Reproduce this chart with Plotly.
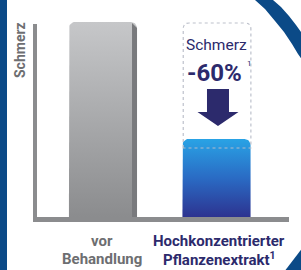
import math
import plotly.graph_objects as go

# ---------------- data ----------------
categories = ["vor Behandlung", "Hochkonzentrierter Pflanzenextrakt"]
label_line1 = ["vor", "Hochkonzentrierter"]
label_line2 = ["Behandlung", "Pflanzenextrakt<sup>1</sup>"]
pain_values = [100, 40]
axis_title = "Schmerz"
box_title = "Schmerz"

# ---------------- layout constants ----------------
W, H = 301, 270
L, R, T, B = 36, 11, 22, 53
PW, PH = W - L - R, H - T - B
X_RANGE = [-0.59, 1.6476]
Y_RANGE = [0, 100]
UX = (X_RANGE[1] - X_RANGE[0]) / PW   # data units per px (x)
UY = (Y_RANGE[1] - Y_RANGE[0]) / PH   # data units per px (y)
BAR_W = 0.6

NAVY = "#2c2a6c"
GREY_TXT = "#6d6e71"
AX_GREY = "#8b8c8e"
FRAME_BLUE = "#0b4a87"
FONT = "Roboto, Liberation Sans, Arial, sans-serif"


def pxx(px):
    return (px - L) / PW


def pxy(py):
    return (H - B - py) / PH


def rounded_bar(i, v, rpx=6):
    x0, x1 = i - BAR_W / 2, i + BAR_W / 2
    rx, ry = rpx * UX, rpx * UY
    xs, ys = [x0, x0], [0, v - ry]
    for k in range(1, 9):
        a = math.pi - k * math.pi / 16
        xs.append(x0 + rx + rx * math.cos(a))
        ys.append(v - ry + ry * math.sin(a))
    for k in range(0, 9):
        a = math.pi / 2 - k * math.pi / 16
        xs.append(x1 - rx + rx * math.cos(a))
        ys.append(v - ry + ry * math.sin(a))
    xs += [x1, x0]
    ys += [0, 0]
    return xs, ys


fig = go.Figure()

bar_scales = [
    [[0, "#8b8c8e"], [1, "#c6c7c9"]],
    [[0, "#2d3390"], [0.5, "#2a6bc4"], [1, "#29a3e5"]],
]
for i, v in enumerate(pain_values):
    xs, ys = rounded_bar(i, v)
    fig.add_trace(go.Scatter(
        x=xs, y=ys, mode="lines", fill="toself",
        line=dict(width=0, color="rgba(0,0,0,0)"),
        fillgradient=dict(type="vertical", colorscale=bar_scales[i]),
        hoverinfo="skip", showlegend=False, name=categories[i],
    ))

shapes = []

# 3D side strip of the grey bar
gx1 = 0 + BAR_W / 2
v0 = pain_values[0]
shapes.append(dict(
    type="path", xref="x", yref="y", layer="above",
    path=(f"M {gx1 - 5*UX},0 L {gx1},0 L {gx1},{v0 - 6*UY} "
          f"L {gx1 - 5*UX},{v0 - 1*UY} Z"),
    fillcolor="#797a7d", line=dict(width=0),
))

# dashed box around the annotation
bx0, bx1 = 1 - 0.293, 1 + 0.303
byt, byb = v0 - 1 * UY, pain_values[1] - 9 * UY
rx, ry = 6 * UX, 6 * UY
shapes.append(dict(
    type="path", xref="x", yref="y", layer="above",
    path=(f"M {bx0},{byb} L {bx0},{byt - ry} Q {bx0},{byt} {bx0 + rx},{byt} "
          f"L {bx1 - rx},{byt} Q {bx1},{byt} {bx1},{byt - ry} L {bx1},{byb} Z"),
    line=dict(color="rgba(185,190,200,0.95)", width=1.2, dash="3px,3px"),
))

# down arrow
ac = 1 + 1.5 * UX
sw, hw = 11 * UX, 20.5 * UX
st, ht, tip = (217 - 89) * UY, (217 - 112) * UY, (217 - 126) * UY
shapes.append(dict(
    type="path", xref="x", yref="y", layer="above",
    path=(f"M {ac - sw},{st} L {ac + sw},{st} L {ac + sw},{ht} L {ac + hw},{ht} "
          f"L {ac},{tip} L {ac - hw},{ht} L {ac - sw},{ht} Z"),
    fillcolor=NAVY, line=dict(width=0),
))

# axis lines
shapes.append(dict(type="rect", xref="paper", yref="paper",
                   x0=pxx(33), x1=pxx(37), y0=pxy(217), y1=pxy(24),
                   fillcolor=AX_GREY, line=dict(width=0)))
shapes.append(dict(type="rect", xref="paper", yref="paper",
                   x0=pxx(33), x1=pxx(289), y0=pxy(222), y1=pxy(217),
                   fillcolor=AX_GREY, line=dict(width=0)))

# blue frame decorations
shapes.append(dict(type="rect", xref="paper", yref="paper",
                   x0=pxx(-2), x1=pxx(7), y0=pxy(272), y1=pxy(-2),
                   fillcolor=FRAME_BLUE, line=dict(width=0)))
arc_pts = [(254, -2), (255, 0), (265, 9), (275, 21), (284, 32), (292, 44),
           (298, 54), (303, 61), (303, 33), (301, 32), (296, 25), (289, 16),
           (281, 7), (273, 0), (271, -2)]
shapes.append(dict(
    type="path", xref="paper", yref="paper",
    path="M " + " L ".join(f"{pxx(a)},{pxy(b)}" for a, b in arc_pts) + " Z",
    fillcolor=FRAME_BLUE, line=dict(width=0),
))
tri = [(284, 272), (303, 272), (303, 247)]
shapes.append(dict(
    type="path", xref="paper", yref="paper",
    path="M " + " L ".join(f"{pxx(a)},{pxy(b)}" for a, b in tri) + " Z",
    fillcolor=FRAME_BLUE, line=dict(width=0),
))

annotations = []
# y-axis title
annotations.append(dict(
    text=axis_title, textangle=-90, xref="paper", yref="paper",
    x=pxx(20), y=pxy(50), xanchor="center", yanchor="middle", showarrow=False,
    font=dict(family=FONT, size=14, color=GREY_TXT, weight=700),
))
# box texts
reduction = round((1 - pain_values[1] / pain_values[0]) * 100)
annotations.append(dict(
    text=box_title, xref="x", yref="y", x=1, y=(217 - 45) * UY,
    xanchor="center", yanchor="middle", showarrow=False,
    font=dict(family=FONT, size=15.5, color=NAVY),
))
annotations.append(dict(
    text=f"-{reduction}%", xref="x", yref="y", x=1 - 2 * UX, y=(217 - 73) * UY,
    xanchor="center", yanchor="middle", showarrow=False,
    font=dict(family=FONT, size=24, color=NAVY, weight=700),
))
annotations.append(dict(
    text="1", xref="x", yref="y", x=1 + 29 * UX, y=(217 - 63) * UY,
    xanchor="left", yanchor="middle", showarrow=False,
    font=dict(family=FONT, size=8, color=NAVY),
))
# category labels
label_colors = [GREY_TXT, NAVY]
label_shift = [-1, 3]
for i in range(len(categories)):
    annotations.append(dict(
        text=label_line1[i], xref="x", yref="paper", x=i,
        y=pxy(241), xshift=label_shift[i], xanchor="center", yanchor="middle",
        showarrow=False,
        font=dict(family=FONT, size=15, color=label_colors[i], weight=700),
    ))
    annotations.append(dict(
        text=label_line2[i], xref="x", yref="paper", x=i,
        y=pxy(259), xshift=label_shift[i], xanchor="center", yanchor="middle",
        showarrow=False,
        font=dict(family=FONT, size=15, color=label_colors[i], weight=700),
    ))

fig.update_layout(
    width=W, height=H,
    margin=dict(l=L, r=R, t=T, b=B, pad=0),
    paper_bgcolor="white", plot_bgcolor="white",
    xaxis=dict(range=X_RANGE, visible=False, fixedrange=True),
    yaxis=dict(range=Y_RANGE, visible=False, fixedrange=True),
    shapes=shapes, annotations=annotations, showlegend=False,
)

fig.write_html(
    "out.html",
    config={"displayModeBar": False},
    post_script="document.body.style.margin='0';document.body.style.overflow='hidden';",
)
